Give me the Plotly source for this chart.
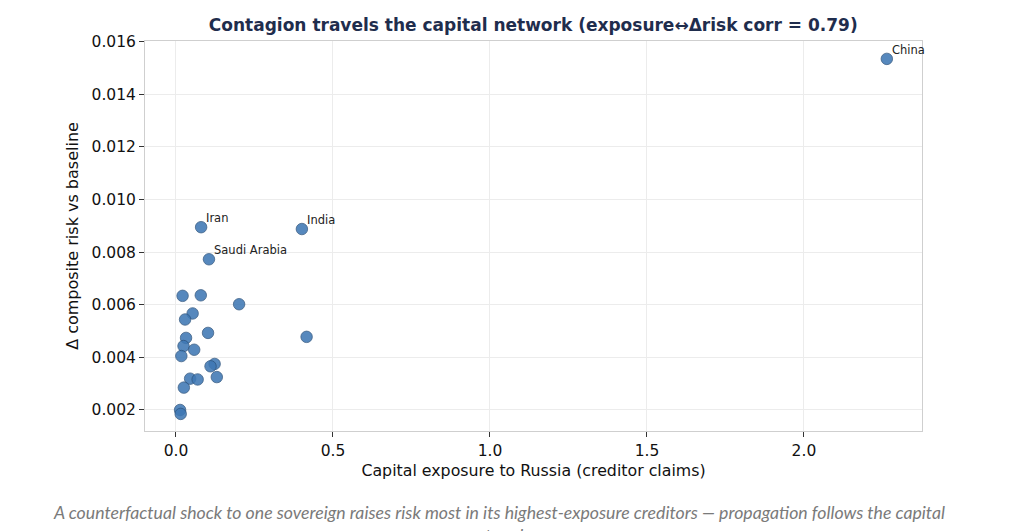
import plotly.graph_objects as go

# exposure vs change in risk, one point per creditor country
countries = ["China", "Iran", "India", "Saudi Arabia", "", "", "", "", "", "", "", "", "",
             "", "", "", "", "", "", "", "", "", ""]
exposure = [2.264, 0.080, 0.401, 0.105, 0.021, 0.079, 0.201, 0.053, 0.029, 0.102, 0.416,
            0.032, 0.024, 0.058, 0.017, 0.123, 0.110, 0.045, 0.069, 0.130, 0.025, 0.013, 0.015]
delta_risk = [0.01535, 0.00895, 0.00888, 0.00773, 0.00634, 0.00636, 0.00602, 0.00567, 0.00544,
              0.00493, 0.00478, 0.00474, 0.00443, 0.00429, 0.00405, 0.00375, 0.00366, 0.00319,
              0.00316, 0.00325, 0.00285, 0.00200, 0.00185]

fig = go.Figure()
fig.add_trace(go.Scatter(
    x=exposure, y=delta_risk, mode="markers",
    marker=dict(size=11.5, color="#3f78b4", opacity=0.88,
                line=dict(color="#2a4f78", width=0.8)),
    showlegend=False,
))

# country labels next to the biggest movers
for name, xv, yv in zip(countries, exposure, delta_risk):
    if name:
        fig.add_annotation(x=xv, y=yv, text=name, showarrow=False,
                           xanchor="left", yanchor="bottom", xshift=3, yshift=0,
                           font=dict(family="DejaVu Sans", size=11.5, color="#222"))

caption = ("A counterfactual shock to one sovereign raises risk most in its highest-exposure creditors"
           " \u2014 propagation follows the capital<br>network.")
fig.add_annotation(text=caption, xref="paper", yref="paper", x=0.4556, y=-0.178,
                   xanchor="center", yanchor="top", showarrow=False, align="center",
                   font=dict(family="Lato", size=17.7, color="#7a7a7a", style="italic"))

axis_common = dict(showline=True, linecolor="#cfcfcf", linewidth=1, mirror=True,
                   showgrid=True, gridcolor="#ececec", zeroline=False,
                   ticks="outside", tickcolor="#333", ticklen=5,
                   tickfont=dict(family="DejaVu Sans", size=15.5, color="#111"))

# page has an 8px body margin, so the figure is 8px smaller than the window
fig.update_layout(
    width=1016, height=523,
    margin=dict(l=137, r=102, t=33, b=100),
    paper_bgcolor="white", plot_bgcolor="white",
    title=dict(text="<b>Contagion travels the capital network (exposure\u2194\u0394risk corr = 0.79)</b>",
               x=0.517, xanchor="center", y=0.967, yanchor="middle",
               font=dict(family="DejaVu Sans", size=17, color="#1f2d4d")),
    xaxis=dict(range=[-0.0987, 2.376], tickvals=[0, 0.5, 1.0, 1.5, 2.0],
               ticktext=["0.0", "0.5", "1.0", "1.5", "2.0"],
               title=dict(text="Capital exposure to Russia (creditor claims)", standoff=6,
                          font=dict(family="DejaVu Sans", size=15.8, color="#111")),
               **axis_common),
    yaxis=dict(range=[0.0012, 0.01603], tickvals=[0.002, 0.004, 0.006, 0.008, 0.010, 0.012, 0.014, 0.016],
               ticktext=["0.002", "0.004", "0.006", "0.008", "0.010", "0.012", "0.014", "0.016"],
               title=dict(text="\u0394 composite risk vs baseline", standoff=8,
                          font=dict(family="DejaVu Sans", size=16, color="#111")),
               **axis_common),
)

fig.write_html("out.html")
